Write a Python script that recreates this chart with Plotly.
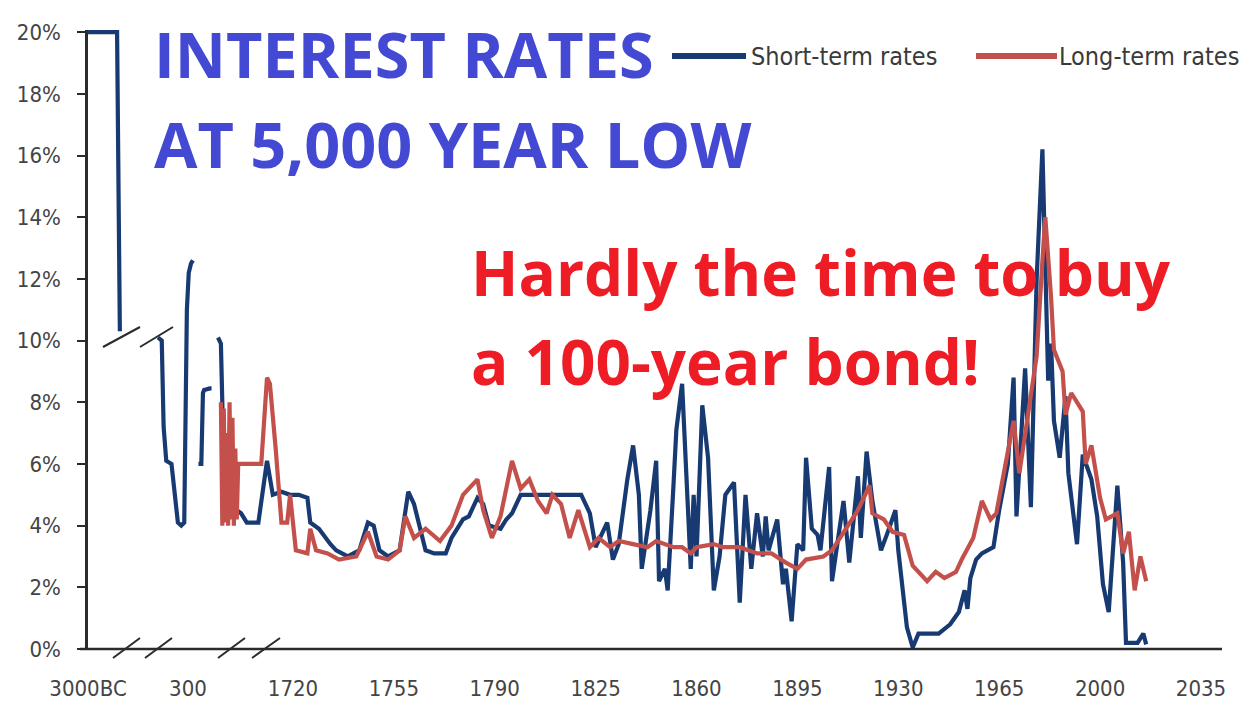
import plotly.graph_objects as go

# ---------------- data ----------------
# Sumerian era (3000 BC onward)
sumer_years = [-3000, -1950, -1850]
sumer_rates = [20.0, 20.0, 10.3]

# Greek and Roman era
classical_years = [-500, -400, -350, -280, -140, 30, 120, 200, 270, 320, 380, 430]
classical_rates = [10.1, 10.0, 7.2, 6.1, 6.0, 4.1, 4.0, 4.1, 11.0, 12.2, 12.5, 12.6]

# Medieval / Renaissance
medieval_years = [1430, 1465, 1485, 1500, 1570, 1590]
medieval_rates = [6.0, 6.0, 8.3, 8.4, 8.45, 8.45]

# Modern short-term rates
short_years = [
    1694, 1695, 1696, 1697, 1699, 1702, 1704, 1708, 1711, 1713, 1716, 1719,
    1722, 1725, 1726, 1729, 1733, 1735, 1739, 1743, 1746, 1748, 1750, 1753,
    1757, 1760, 1762, 1764, 1766, 1769, 1773, 1775, 1779, 1781, 1784, 1786,
    1788, 1792, 1794, 1796, 1799, 1810, 1820, 1823, 1825, 1829, 1831, 1833,
    1836, 1838, 1840, 1841, 1844, 1846, 1847, 1849, 1850, 1852, 1853, 1855,
    1857, 1858, 1859, 1860, 1862, 1864, 1866, 1868, 1870, 1873, 1875, 1877,
    1879, 1881, 1883, 1884, 1885, 1888, 1890, 1891, 1893, 1895, 1897, 1898,
    1900, 1902, 1903, 1906, 1907, 1910, 1911, 1913, 1916, 1917, 1919, 1921,
    1924, 1926, 1929, 1930, 1933, 1935, 1937, 1944, 1948, 1951, 1953, 1954,
    1955, 1957, 1959, 1963, 1965, 1968, 1970, 1971, 1974, 1976, 1978, 1980,
    1982, 1983, 1984, 1986, 1988, 1989, 1992, 1994, 1997, 1999, 2001, 2003,
    2006, 2008, 2009, 2013, 2015, 2016,
]
short_rates = [
    10.1, 9.9, 6.0, 4.6, 4.6, 4.4, 4.1, 4.1, 6.1, 5.0, 5.1, 5.0,
    5.0, 4.9, 4.1, 3.9, 3.4, 3.2, 3.0, 3.2, 4.1, 4.0, 3.2, 3.0,
    3.2, 5.1, 4.7, 4.0, 3.2, 3.1, 3.1, 3.6, 4.2, 4.3, 4.9, 4.7,
    4.0, 3.9, 4.2, 4.4, 5.0, 5.0, 5.0, 4.4, 3.3, 4.1, 2.9, 3.4,
    5.5, 6.6, 5.0, 2.6, 4.5, 6.1, 2.2, 2.6, 1.9, 5.3, 7.1, 8.6,
    5.0, 2.6, 5.0, 3.0, 7.9, 6.2, 1.9, 3.0, 5.0, 5.4, 1.5, 5.0,
    2.6, 4.4, 3.0, 4.3, 3.2, 4.2, 2.1, 2.6, 0.9, 3.4, 3.2, 6.2,
    3.9, 3.7, 3.2, 5.9, 2.2, 4.3, 4.8, 2.8, 5.6, 3.6, 6.4, 4.8,
    3.2, 3.7, 4.5, 3.2, 0.7, 0.05, 0.5, 0.5, 0.8, 1.2, 1.9, 1.3,
    2.3, 2.9, 3.1, 3.3, 4.5, 6.0, 8.8, 4.3, 9.1, 4.6, 12.0, 16.2,
    8.7, 9.9, 7.4, 6.2, 8.2, 5.7, 3.4, 6.3, 5.5, 4.3, 2.1, 1.2,
    5.3, 2.8, 0.2, 0.2, 0.5, 0.15,
]

# Modern long-term rates (half-yearly at the start, where quotes swing widely)
long_years = [
    1695, 1695.5, 1696, 1696.5, 1697, 1697.5, 1698, 1698.5, 1699, 1699.5,
    1700, 1700.5, 1701, 1709, 1711, 1712, 1714, 1716,
    1718, 1719, 1721, 1725, 1726, 1728, 1732, 1736, 1742, 1746, 1749, 1753,
    1757, 1759, 1762, 1766, 1771, 1775, 1779, 1784, 1786, 1789, 1792, 1794,
    1796, 1799, 1802, 1805, 1808, 1810, 1813, 1816, 1819, 1823, 1826, 1830,
    1833, 1838, 1843, 1846, 1852, 1855, 1858, 1860, 1866, 1869, 1875, 1881,
    1886, 1891, 1895, 1898, 1904, 1907, 1912, 1916, 1920, 1921, 1925, 1928,
    1932, 1935, 1940, 1943, 1946, 1950, 1952, 1956, 1959, 1962, 1964, 1968,
    1970, 1972, 1975, 1978, 1980, 1981, 1983, 1984, 1987, 1988, 1990, 1994,
    1995, 1997, 2000, 2002, 2006, 2008, 2010, 2012, 2014, 2016,
]
long_rates = [
    8.0, 4.0, 7.8, 4.1, 7.0, 4.0, 8.0, 4.2, 7.5, 4.0,
    6.5, 4.2, 6.0, 6.0, 8.8, 8.6, 6.5, 4.1,
    4.1, 5.0, 3.2, 3.1, 3.9, 3.2, 3.1, 2.9, 3.0, 3.8, 3.0, 2.9,
    3.2, 4.3, 3.6, 3.9, 3.5, 4.0, 5.0, 5.5, 4.5, 3.6, 4.3, 5.2,
    6.1, 5.2, 5.5, 4.8, 4.4, 5.0, 4.7, 3.6, 4.5, 3.3, 3.6, 3.3,
    3.5, 3.4, 3.3, 3.5, 3.3, 3.3, 3.1, 3.3, 3.4, 3.3, 3.3, 3.1,
    3.1, 2.8, 2.6, 2.9, 3.0, 3.2, 3.9, 4.5, 5.3, 4.4, 4.2, 3.8,
    3.7, 2.7, 2.2, 2.5, 2.3, 2.5, 2.9, 3.6, 4.8, 4.2, 4.4, 6.3,
    7.4, 5.7, 7.7, 9.5, 12.6, 14.0, 11.4, 9.7, 9.0, 7.6, 8.3, 7.7,
    6.0, 6.6, 4.9, 4.2, 4.4, 3.1, 3.8, 1.9, 3.0, 2.2,
]

# Axis labels
y_ticks = list(range(0, 21, 2))
y_tick_text = [f"{v}%" for v in y_ticks]
modern_ticks = [1720, 1755, 1790, 1825, 1860, 1895, 1930, 1965, 2000, 2035]
modern_tick_text = [str(v) for v in modern_ticks]
sumer_tick, sumer_tick_text = [-3000], ["3000BC"]
classical_tick, classical_tick_text = [300], ["300"]

# ---------------- layout helpers ----------------
W, H = 1249, 709
PL, PR, PT, PB = 88, 1222, 30, 649  # plot area in pixels


def fx(px):
    return (px - PL) / (PR - PL)


def fy(py):
    return (PB - py) / (PB - PT)


NAVY = "#173a73"
BRICK = "#c4504c"
AXIS = "#2b2b2b"
NARROW = "DejaVu Sans Condensed, Liberation Sans Narrow, sans-serif"
TICK_FONT = dict(family=NARROW, size=22, color="#444444")

fig = go.Figure()
line_w = 4.2
fig.add_trace(go.Scatter(x=sumer_years, y=sumer_rates, mode="lines", xaxis="x", yaxis="y",
                         line=dict(color=NAVY, width=line_w), name="Short-term rates", showlegend=False))
fig.add_trace(go.Scatter(x=classical_years, y=classical_rates, mode="lines", xaxis="x2", yaxis="y",
                         line=dict(color=NAVY, width=line_w), showlegend=False))
fig.add_trace(go.Scatter(x=medieval_years, y=medieval_rates, mode="lines", xaxis="x3", yaxis="y",
                         line=dict(color=NAVY, width=line_w), showlegend=False))
fig.add_trace(go.Scatter(x=short_years, y=short_rates, mode="lines", xaxis="x4", yaxis="y",
                         line=dict(color=NAVY, width=line_w), showlegend=False))
fig.add_trace(go.Scatter(x=long_years, y=long_rates, mode="lines", xaxis="x4", yaxis="y",
                         line=dict(color=BRICK, width=line_w), name="Long-term rates", showlegend=False))

xcommon = dict(anchor="y", showgrid=False, zeroline=False, showline=False, ticks="",
               tickfont=TICK_FONT, ticklabelstandoff=24, automargin=False, fixedrange=True)

fig.update_layout(
    width=W, height=H, autosize=False,
    margin=dict(l=PL, r=W - PR, t=PT, b=H - PB, pad=0),
    paper_bgcolor="white", plot_bgcolor="white",
    showlegend=False,
    xaxis=dict(domain=[fx(88), fx(124)], range=[-3001, -1700],
               tickvals=sumer_tick, ticktext=sumer_tick_text, **xcommon),
    xaxis2=dict(domain=[fx(154.25), fx(195.5)], range=[-600, 500],
                tickvals=classical_tick, ticktext=classical_tick_text, **xcommon),
    xaxis3=dict(domain=[fx(196), fx(214)], range=[1400, 1620],
                showticklabels=False, **xcommon),
    xaxis4=dict(domain=[fx(216), fx(1222)], range=[1693.3, 2042.3],
                tickvals=modern_ticks, ticktext=modern_tick_text, **xcommon),
    yaxis=dict(anchor="x", range=[0, 20.07], tickvals=y_ticks, ticktext=y_tick_text,
               showgrid=False, zeroline=False, showline=True, linecolor=AXIS, linewidth=2.5,
               ticks="outside", ticklen=8, tickwidth=2, tickcolor=AXIS, automargin=False,
               tickfont=TICK_FONT, ticklabelstandoff=12, fixedrange=True),
)

shapes = []
# continuous baseline
shapes.append(dict(type="line", xref="paper", yref="paper", x0=fx(80), x1=1, y0=0, y1=0,
                   line=dict(color=AXIS, width=2.5)))
# axis-break slashes on the baseline
for x0, x1 in [(113, 140), (145, 172), (218, 245), (252, 280)]:
    shapes.append(dict(type="line", xref="paper", yref="paper", x0=fx(x0), x1=fx(x1),
                       y0=fy(658), y1=fy(638), line=dict(color=AXIS, width=2)))
# value-break slashes at the 10% level
for x0, x1 in [(103, 140), (140, 173)]:
    shapes.append(dict(type="line", xref="paper", yref="paper", x0=fx(x0), x1=fx(x1),
                       y0=fy(347), y1=fy(327), line=dict(color=AXIS, width=2)))
# legend keys
shapes.append(dict(type="line", xref="paper", yref="paper", x0=fx(672), x1=fx(746),
                   y0=fy(56), y1=fy(56), line=dict(color=NAVY, width=6)))
shapes.append(dict(type="line", xref="paper", yref="paper", x0=fx(976), x1=fx(1057),
                   y0=fy(56), y1=fy(56), line=dict(color=BRICK, width=6)))
fig.update_layout(shapes=shapes)

LEGEND_FONT = dict(family=NARROW, size=25, color="#3a3a3a")
BLUE_TXT = dict(family="Open Sans, sans-serif", size=63, color="#4349d2")
RED_TXT = dict(family="Open Sans, sans-serif", size=62, color="#ee1c25")
annotations = [
    dict(text="Short-term rates", x=fx(750), y=fy(56), xanchor="left", yanchor="middle",
         font=LEGEND_FONT),
    dict(text="Long-term rates", x=fx(1058), y=fy(56), xanchor="left", yanchor="middle",
         font=LEGEND_FONT),
    dict(text="<b>INTEREST RATES</b>", x=fx(153), y=fy(53), xanchor="left", yanchor="middle",
         font=BLUE_TXT),
    dict(text="<b>AT 5,000 YEAR LOW</b>", x=fx(153), y=fy(143), xanchor="left", yanchor="middle",
         font=BLUE_TXT),
    dict(text="<b>Hardly the time to buy</b>", x=fx(470), y=fy(272), xanchor="left", yanchor="middle",
         font=RED_TXT),
    dict(text="<b>a 100-year bond!</b>", x=fx(470), y=fy(361), xanchor="left", yanchor="middle",
         font=RED_TXT),
]
for a in annotations:
    a.update(xref="paper", yref="paper", showarrow=False, borderpad=0)
fig.update_layout(annotations=annotations)

fig.write_html("out.html", config=dict(displayModeBar=False))
